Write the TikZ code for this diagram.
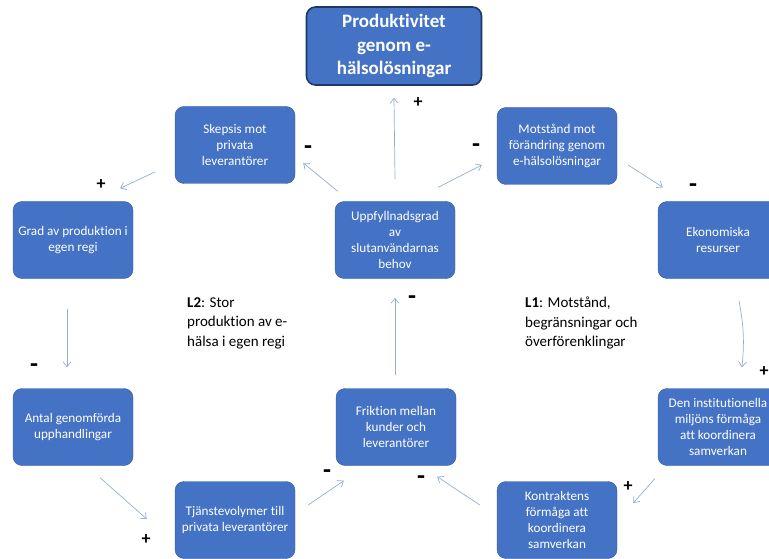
\documentclass[tikz,border=0pt]{standalone}
\usepackage{fontspec}
\setmainfont{Carlito}[Ligatures=NoCommon]
\usetikzlibrary{arrows.meta,calc}
\definecolor{boxblue}{RGB}{68,114,196}
\definecolor{boxedge}{RGB}{52,90,160}
\definecolor{titleedge}{RGB}{31,56,100}
\definecolor{linkblue}{RGB}{150,172,214}

\begin{document}
\begin{tikzpicture}[x=1pt,y=-1pt,
	factor/.style={rectangle,rounded corners=9pt,fill=boxblue,draw=boxedge,line width=0.4pt,
		minimum width=120pt,minimum height=77pt,align=center,text=white,inner sep=2pt,
		font=\fontsize{13.2}{16}\selectfont},
	goal/.style={factor,draw=titleedge,line width=1.6pt,minimum width=175pt,minimum height=78pt,
		font=\fontsize{19}{23.5}\selectfont\bfseries},
	link/.style={draw=linkblue,line width=0.7pt,-{Straight Barb[length=5pt,width=8pt]}},
	polarity/.style={font=\fontsize{18}{18}\selectfont\bfseries,inner sep=0pt},
	minus/.style={font=\fontsize{26}{26}\selectfont\bfseries,inner sep=0pt},
	looplabel/.style={align=left,anchor=north west,inner sep=0pt,font=\fontsize{15}{19.5}\selectfont}]
		% Frame.
		\useasboundingbox (0,0) rectangle (769,559);
		\clip (0,0) rectangle (769,559);
		
		% Factors.
		\node[goal] (prod) at (394,46) {Produktivitet\\genom e-\\hälsolösningar};
		\node[factor] (skep) at (235,145) {Skepsis mot\\privata\\leverantörer};
		\node[factor] (mot) at (557,146) {Motstånd mot\\förändring genom\\e-hälsolösningar};
		\node[factor] (grad) at (73,240) {Grad av produktion i\\egen regi};
		\node[factor] (upp) at (395,240) {Uppfyllnadsgrad\\av\\slutanvändarnas\\behov};
		\node[factor] (eko) at (718,240) {Ekonomiska\\resurser};
		\node[factor] (antal) at (73,427) {Antal genomförda\\upphandlingar};
		\node[factor] (frik) at (396,427) {Friktion mellan\\kunder och\\leverantörer};
		\node[factor] (inst) at (718,427) {Den institutionella\\miljöns förmåga\\att koordinera\\samverkan};
		\node[factor] (tjan) at (235,520) {Tjänstevolymer till\\privata leverantörer};
		\node[factor] (kont) at (557,520) {Kontraktens\\förmåga att\\koordinera\\samverkan};
		
		% Loop labels.
		\node[looplabel] (ltwo) at (187,297) {\textbf{L2}: Stor\\produktion av e-\\hälsa i egen regi};
		\node[looplabel] (lone) at (525,297) {\textbf{L1}: Motstånd,\\begränsningar och\\överförenklingar};
		
		% Links.
		\draw[link] ($(upp.north)+(0,-22)$) -- ($(prod.south)+(0,12)$);
		\draw[link] ($(upp.north west)+(3,-10)$) -- ($(skep.east)+(8,18)$);
		\draw[link] ($(upp.north east)+(-17,-14)$) -- ($(mot.west)+(-15,19)$);
		\draw[link] ($(skep.west)+(-20,27)$) -- ($(grad.north east)+(-13,-13)$);
		\draw[link] ($(mot.east)+(11,19)$) -- ($(eko.north west)+(5,-14)$);
		\draw[link] ($(grad.south)+(-6,30)$) -- ($(antal.north)+(-6,-21)$);
		\draw[link] ($(eko.south)+(21,22)$) to[bend left=8] ($(inst.north)+(24,-21)$);
		\draw[link] ($(antal.south)+(27,12)$) -- ($(tjan.west)+(-28,-1)$);
		\draw[link] ($(tjan.east)+(13,-15)$) -- ($(frik.south west)+(8,15)$);
		\draw[link] ($(kont.west)+(-17,-15)$) -- ($(frik.south east)+(-19,11)$);
		\draw[link] ($(inst.south west)+(-3,13)$) -- ($(kont.east)+(16,-17)$);
		\draw[link] ($(frik.north)+(-1,-13)$) -- ($(upp.south)+(0,19)$);
		
		% Polarities.
		\node[polarity] (pprod) at (418,103) {+};
		\node[minus] (pskep) at (308,150) {-};
		\node[minus] (pmot) at (476,148) {-};
		\node[polarity] (pgrad) at (101,185) {+};
		\node[minus] (peko) at (693,188) {-};
		\node[minus] (pantal) at (34,368) {-};
		\node[polarity] (pinst) at (764,372) {+};
		\node[polarity] (ptjan) at (146,540) {+};
		\node[minus] (pfrik) at (327,474) {-};
		\node[minus] (pkont) at (421,480) {-};
		\node[polarity] (pkinst) at (628,487) {+};
		\node[minus] (pupp) at (412,300) {-};
	\end{tikzpicture}
\end{document}
